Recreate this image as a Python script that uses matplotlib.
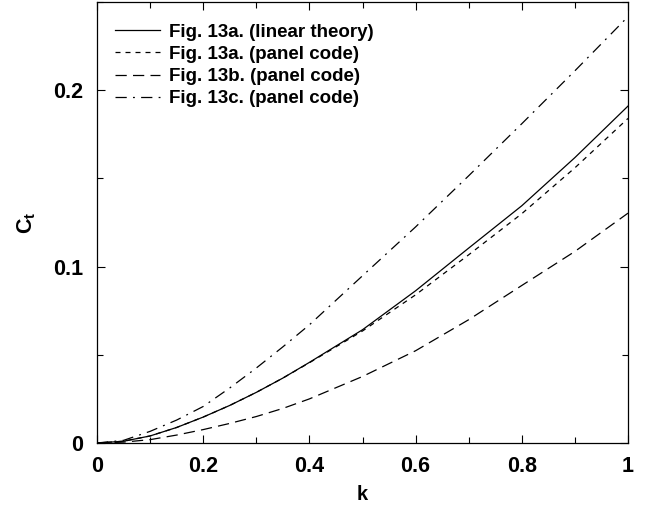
import matplotlib
matplotlib.use("Agg")
import matplotlib.pyplot as plt
from matplotlib.ticker import MultipleLocator, FuncFormatter

plt.rcParams['font.family'] = ['Liberation Sans', 'DejaVu Sans']
plt.rcParams['font.weight'] = 'bold'
plt.rcParams['mathtext.fontset'] = 'custom'
plt.rcParams['mathtext.rm'] = 'Liberation Sans:bold'
plt.rcParams['mathtext.it'] = 'Liberation Sans:bold'
plt.rcParams['mathtext.bf'] = 'Liberation Sans:bold'

k = [0.0, 0.05, 0.1, 0.15, 0.2, 0.25, 0.3, 0.35, 0.4, 0.5, 0.6, 0.7, 0.8, 0.9, 1.0]
ct_13a_linear = [0.0, 0.001, 0.004, 0.0088, 0.0147, 0.0213, 0.0287, 0.0368, 0.0457, 0.0642, 0.0863, 0.1105, 0.1345, 0.1618, 0.191]
ct_13a_panel = [0.0, 0.001, 0.004, 0.0088, 0.0147, 0.0213, 0.0287, 0.0368, 0.0455, 0.0635, 0.0840, 0.1067, 0.1300, 0.1560, 0.184]
ct_13b_panel = [0.0, 0.0005, 0.0019, 0.0045, 0.0076, 0.0111, 0.0150, 0.0196, 0.0250, 0.0377, 0.0523, 0.0699, 0.0893, 0.1086, 0.1303]
ct_13c_panel = [0.0, 0.0015, 0.0066, 0.0130, 0.0207, 0.0312, 0.0425, 0.0545, 0.0670, 0.0948, 0.1225, 0.1515, 0.1810, 0.2110, 0.2417]

labels = ["Fig. 13a. (linear theory)", "Fig. 13a. (panel code)",
          "Fig. 13b. (panel code)", "Fig. 13c. (panel code)"]

fig = plt.figure(figsize=(6.48, 5.08), dpi=100)
ax = fig.add_axes([97/648, (508-443)/508, (628-97)/648, (443-2)/508])

lw = 0.9
ax.plot(k, ct_13a_linear, color='black', lw=lw, linestyle='-', label=labels[0])
ax.plot(k, ct_13a_panel, color='black', lw=lw, linestyle=(0, (4, 4)), label=labels[1])
ax.plot(k, ct_13b_panel, color='black', lw=lw, linestyle=(0, (9, 5)), label=labels[2])
ax.plot(k, ct_13c_panel, color='black', lw=lw, linestyle=(0, (9, 5, 1.5, 5)), label=labels[3])

ax.set_xlim(0, 1)
ax.set_ylim(0, 0.25)
ax.xaxis.set_major_locator(MultipleLocator(0.2))
ax.xaxis.set_minor_locator(MultipleLocator(0.1))
ax.yaxis.set_major_locator(MultipleLocator(0.1))
ax.yaxis.set_minor_locator(MultipleLocator(0.05))

def fmt(v, pos):
    if abs(v) < 1e-9:
        return "0"
    if abs(v - 1) < 1e-9:
        return "1"
    return "%.1f" % v

ax.xaxis.set_major_formatter(FuncFormatter(fmt))
ax.yaxis.set_major_formatter(FuncFormatter(fmt))

ax.tick_params(which='both', direction='in', top=True, right=True, width=0.8)
ax.tick_params(which='major', length=6, labelsize=15.5)
ax.tick_params(axis='x', which='major', pad=9)
ax.tick_params(axis='y', which='major', pad=10)
ax.tick_params(which='minor', length=4)
for lab in ax.get_xticklabels() + ax.get_yticklabels():
    lab.set_fontweight('bold')
for s in ax.spines.values():
    s.set_linewidth(0.9)

ax.set_xlabel("k", fontsize=14.5, fontweight='bold', labelpad=6)
ax.set_ylabel(r"$\mathbf{C_t}$", fontsize=15.5, labelpad=11)

leg = ax.legend(loc='upper left', frameon=False, fontsize=13.5, handlelength=2.4,
                handletextpad=0.5, labelspacing=0.27, borderaxespad=0.0,
                bbox_to_anchor=(0.02, 0.968))
for t in leg.get_texts():
    t.set_fontweight('bold')

fig.savefig("out.png", dpi=100)
